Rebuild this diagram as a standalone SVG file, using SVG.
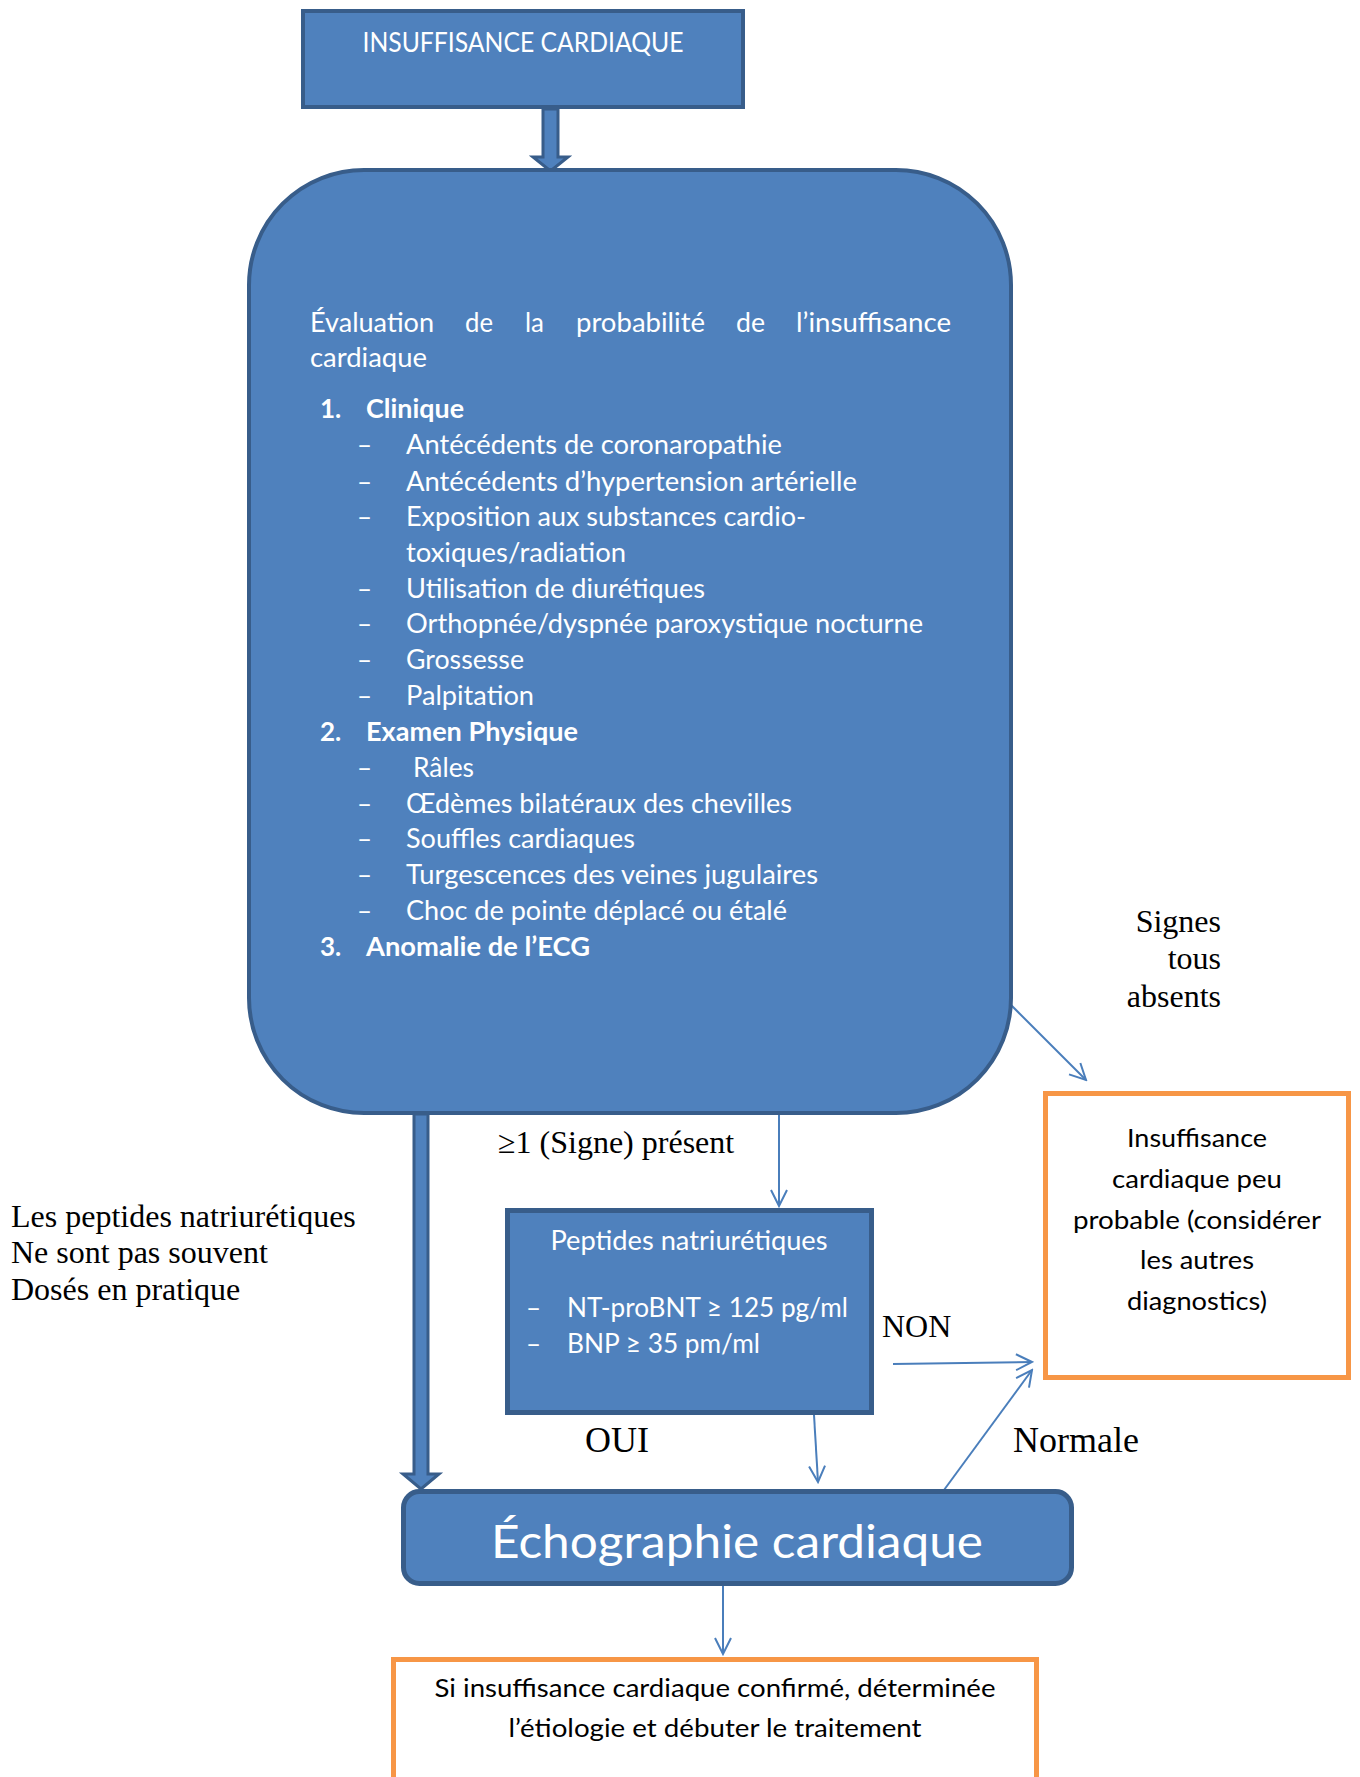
<svg xmlns="http://www.w3.org/2000/svg" width="1360" height="1777" viewBox="0 0 1360 1777">
<style>
.node{fill:#4F81BD;stroke:#385D8A}
.orange{fill:#FFFFFF;stroke:#F79646;stroke-width:5}
.w{font-family:Lato,"Open Sans",sans-serif;fill:#FFFFFF;font-size:26px}
.b{font-weight:bold}
.k{font-family:Lato,"Open Sans",sans-serif;fill:#000000;font-size:25px}
.s{font-family:"Liberation Serif","Times New Roman",serif;fill:#000000;font-size:32px}
.c{fill:none;stroke:#4A7EBB;stroke-width:2}
.thick{fill:#4F81BD;stroke:#385D8A;stroke-width:3;stroke-linejoin:miter}
</style>
<defs>
<marker id="open" viewBox="0 0 20 20" refX="18" refY="10" markerWidth="20" markerHeight="20" markerUnits="userSpaceOnUse" orient="auto">
<path d="M2,2 L18,10 L2,18" fill="none" stroke="#4A7EBB" stroke-width="2"/>
</marker>
</defs>
<rect width="1360" height="1777" fill="#FFFFFF"/>

<g id="connectors">
<polygon class="thick" points="543,109 558,109 558,157 568,157 550.5,171 533,157 543,157"/>
<polygon class="thick" points="414,1114 428,1114 428,1474 439,1474 421,1489 403,1474 414,1474"/>
<line class="c" x1="1008" y1="1002" x2="1086" y2="1080" marker-end="url(#open)"/>
<line class="c" x1="779" y1="1115" x2="779" y2="1206" marker-end="url(#open)"/>
<line class="c" x1="893" y1="1364" x2="1032" y2="1362" marker-end="url(#open)"/>
<line class="c" x1="944" y1="1490" x2="1032" y2="1370" marker-end="url(#open)"/>
<line class="c" x1="814" y1="1415" x2="818" y2="1482" marker-end="url(#open)"/>
<line class="c" x1="723" y1="1586" x2="723" y2="1654" marker-end="url(#open)"/>
</g>

<g id="n-top">
<rect class="node" x="303" y="11" width="440" height="96" stroke-width="4"/>
<text class="w" x="523" y="52" text-anchor="middle" textLength="321" lengthAdjust="spacingAndGlyphs">INSUFFISANCE CARDIAQUE</text>
</g>

<g id="n-eval">
<rect class="node" x="249" y="170" width="762" height="943" rx="115" ry="115" stroke-width="4"/>
<g class="w">
<text x="310" y="332" textLength="124" lengthAdjust="spacingAndGlyphs">Évaluation</text>
<text x="465" y="332" textLength="28" lengthAdjust="spacingAndGlyphs">de</text>
<text x="525" y="332" textLength="19" lengthAdjust="spacingAndGlyphs">la</text>
<text x="576" y="332" textLength="129" lengthAdjust="spacingAndGlyphs">probabilité</text>
<text x="736" y="332" textLength="29" lengthAdjust="spacingAndGlyphs">de</text>
<text x="796" y="332" textLength="155" lengthAdjust="spacingAndGlyphs">l’insuffisance</text>
</g>
<text class="w" x="310" y="367" textLength="117" lengthAdjust="spacingAndGlyphs">cardiaque</text>
<text class="w b" x="320" y="418">1.</text>
<text class="w b" x="366" y="418" textLength="98" lengthAdjust="spacingAndGlyphs">Clinique</text>
<g class="w">
<text x="357" y="454">–</text>
<text x="406" y="454" textLength="376" lengthAdjust="spacingAndGlyphs">Antécédents de coronaropathie</text>
<text x="357" y="491">–</text>
<text x="406" y="491" textLength="451" lengthAdjust="spacingAndGlyphs">Antécédents d’hypertension artérielle</text>
<text x="357" y="526">–</text>
<text x="406" y="526" textLength="400" lengthAdjust="spacingAndGlyphs">Exposition aux substances cardio-</text>
<text x="406" y="562" textLength="220" lengthAdjust="spacingAndGlyphs">toxiques/radiation</text>
<text x="357" y="598">–</text>
<text x="406" y="598" textLength="299" lengthAdjust="spacingAndGlyphs">Utilisation de diurétiques</text>
<text x="357" y="633">–</text>
<text x="406" y="633" textLength="517" lengthAdjust="spacingAndGlyphs">Orthopnée/dyspnée paroxystique nocturne</text>
<text x="357" y="669">–</text>
<text x="406" y="669" textLength="118" lengthAdjust="spacingAndGlyphs">Grossesse</text>
<text x="357" y="705">–</text>
<text x="406" y="705" textLength="128" lengthAdjust="spacingAndGlyphs">Palpitation</text>
</g>
<text class="w b" x="320" y="741">2.</text>
<text class="w b" x="366" y="741" textLength="212" lengthAdjust="spacingAndGlyphs">Examen Physique</text>
<g class="w">
<text x="357" y="777">–</text>
<text x="413" y="777" textLength="61" lengthAdjust="spacingAndGlyphs">Râles</text>
<text x="357" y="813">–</text>
<text x="406" y="813" textLength="386" lengthAdjust="spacingAndGlyphs">Œdèmes bilatéraux des chevilles</text>
<text x="357" y="848">–</text>
<text x="406" y="848" textLength="229" lengthAdjust="spacingAndGlyphs">Souffles cardiaques</text>
<text x="357" y="884">–</text>
<text x="406" y="884" textLength="412" lengthAdjust="spacingAndGlyphs">Turgescences des veines jugulaires</text>
<text x="357" y="920">–</text>
<text x="406" y="920" textLength="381" lengthAdjust="spacingAndGlyphs">Choc de pointe déplacé ou étalé</text>
</g>
<text class="w b" x="320" y="956">3.</text>
<text class="w b" x="366" y="956" textLength="224" lengthAdjust="spacingAndGlyphs">Anomalie de l’ECG</text>
</g>

<g id="lbl-absents">
<text class="s" x="1221" y="932" text-anchor="end">Signes</text>
<text class="s" x="1221" y="969" text-anchor="end">tous</text>
<text class="s" x="1221" y="1007" text-anchor="end">absents</text>
</g>

<g id="n-improbable">
<rect class="orange" x="1045.5" y="1093.5" width="303" height="284"/>
<text class="k" x="1197" y="1147" text-anchor="middle" textLength="140" lengthAdjust="spacingAndGlyphs">Insuffisance</text>
<text class="k" x="1197" y="1188" text-anchor="middle" textLength="170" lengthAdjust="spacingAndGlyphs">cardiaque peu</text>
<text class="k" x="1197" y="1229" text-anchor="middle" textLength="248" lengthAdjust="spacingAndGlyphs">probable (considérer</text>
<text class="k" x="1197" y="1269" text-anchor="middle" textLength="114" lengthAdjust="spacingAndGlyphs">les autres</text>
<text class="k" x="1197" y="1310" text-anchor="middle" textLength="140" lengthAdjust="spacingAndGlyphs">diagnostics)</text>
</g>

<g id="lbl-present">
<text class="s" x="498" y="1153">≥1 (Signe) présent</text>
</g>

<g id="lbl-note">
<text class="s" x="11" y="1227">Les peptides natriurétiques</text>
<text class="s" x="11" y="1263">Ne sont pas souvent</text>
<text class="s" x="11" y="1300">Dosés en pratique</text>
</g>

<g id="n-peptides">
<rect class="node" x="507.5" y="1210.5" width="364" height="202" stroke-width="5"/>
<text class="w" x="689" y="1250" text-anchor="middle" textLength="277" lengthAdjust="spacingAndGlyphs">Peptides natriurétiques</text>
<text class="w" x="526" y="1317">–</text>
<text class="w" x="567" y="1317" textLength="281" lengthAdjust="spacingAndGlyphs">NT-proBNT ≥ 125 pg/ml</text>
<text class="w" x="526" y="1353">–</text>
<text class="w" x="567" y="1353" textLength="193" lengthAdjust="spacingAndGlyphs">BNP ≥ 35 pm/ml</text>
</g>

<g id="lbl-non"><text class="s" x="882" y="1337">NON</text></g>
<g id="lbl-oui"><text class="s" x="585" y="1452" style="font-size:36px">OUI</text></g>
<g id="lbl-normale"><text class="s" x="1013" y="1452" style="font-size:36px">Normale</text></g>

<g id="n-echo">
<rect class="node" x="403.5" y="1491.5" width="668" height="92" rx="16" ry="16" stroke-width="5"/>
<text class="w" x="737" y="1558" text-anchor="middle" style="font-size:46px" textLength="492" lengthAdjust="spacingAndGlyphs">Échographie cardiaque</text>
</g>

<g id="n-result">
<rect class="orange" x="393.5" y="1659.5" width="643" height="200"/>
<text class="k" x="715" y="1697" text-anchor="middle" textLength="561" lengthAdjust="spacingAndGlyphs">Si insuffisance cardiaque confirmé, déterminée</text>
<text class="k" x="715" y="1737" text-anchor="middle" textLength="413" lengthAdjust="spacingAndGlyphs">l’étiologie et débuter le traitement</text>
</g>
</svg>
